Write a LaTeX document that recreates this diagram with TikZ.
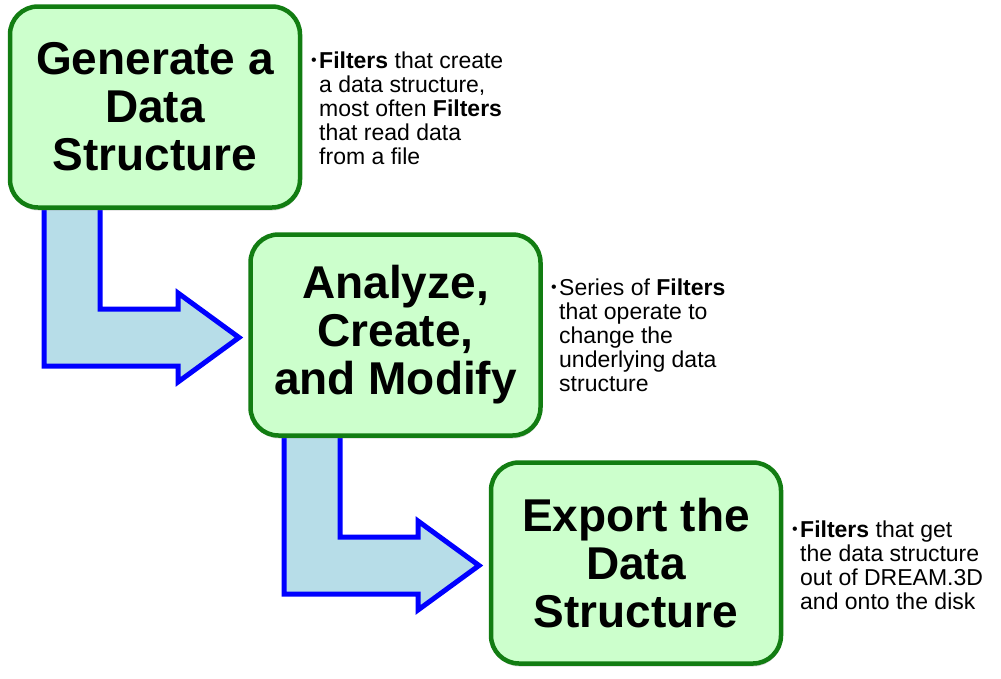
\documentclass[tikz,border=0pt]{standalone}
\usepackage{fontspec}
\setmainfont{Liberation Sans}
\usetikzlibrary{shadows}
\definecolor{boxgreen}{RGB}{204,255,204}
\definecolor{boxedge}{RGB}{18,125,18}
\definecolor{arrowfill}{RGB}{183,221,232}
\definecolor{arrowedge}{RGB}{0,0,255}
\newcommand{\bul}{\llap{\fontsize{16}{16}\selectfont\raisebox{3pt}{•}\hspace{2.5pt}}}
\begin{document}
\begin{tikzpicture}[x=1pt,y=-1pt,
  stepbox/.style={draw=boxedge, line width=4.5pt, fill=boxgreen, rounded corners=28pt,
    minimum width=290pt, minimum height=201pt, inner sep=0pt, align=center,
    font=\fontsize{46}{48}\selectfont\bfseries,
    drop shadow={shadow xshift=0.5pt, shadow yshift=-3pt, opacity=0.3}},
  note/.style={anchor=base west, align=left, inner sep=0pt, font=\fontsize{23}{24}\selectfont},
  bigarrow/.style={draw=arrowedge, line width=5pt, fill=arrowfill, line join=miter}]
\useasboundingbox (0,0) rectangle (1001,678);

% block arrows (behind the boxes)
\draw[bigarrow] (44,200) -- (44,366) -- (178,366) -- (178,382) -- (239,337.5)
  -- (178,293) -- (178,309) -- (100,309) -- (100,200) -- cycle;
\draw[bigarrow] (284,428) -- (284,594) -- (418,594) -- (418,610) -- (479,565.5)
  -- (418,521) -- (418,537) -- (340,537) -- (340,428) -- cycle;

% step boxes
\node[stepbox] (gen) at (155,107) {Generate a\\Data\\Structure};
\node[stepbox] (ana) at (395.5,335) {Analyze,\\Create,\\and Modify};
\node[stepbox] (exp) at (636,563) {Export the\\Data\\Structure};

% notes (anchor = baseline of last line)
\node[note] (n1) at (319,164) {\bul\textbf{Filters} that create\\a data structure,\\most often \textbf{Filters}\\that read data\\from a file};
\node[note] (n2) at (559,391) {\bul Series of \textbf{Filters}\\that operate to\\change the\\underlying data\\structure};
\node[note] (n3) at (800,609) {\bul\textbf{Filters} that get\\the data structure\\out of DREAM.3D\\and onto the disk};
\end{tikzpicture}
\end{document}
